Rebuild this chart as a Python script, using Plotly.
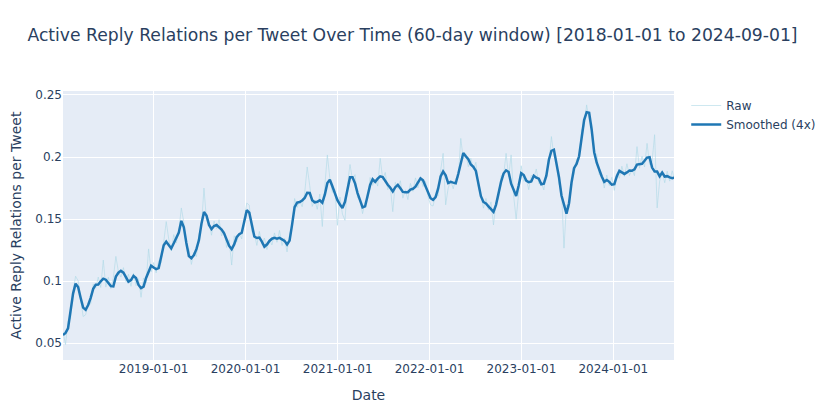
import pandas as pd
import plotly.graph_objects as go

# Sampling dates of the 60-day window series (every 10 days)
start_date = "2018-01-06"
n_points = 244

smoothed_values = [
    0.0566, 0.0583, 0.0620, 0.0747, 0.0900, 0.0980, 0.0953, 0.0867, 0.0787, 0.0770,
    0.0808, 0.0866, 0.0938, 0.0972, 0.0973, 0.0999, 0.1020, 0.1012, 0.0982, 0.0960,
    0.0958, 0.1037, 0.1068, 0.1083, 0.1069, 0.1027, 0.0996, 0.1008, 0.1043, 0.1025,
    0.0970, 0.0944, 0.0956, 0.1026, 0.1080, 0.1125, 0.1110, 0.1097, 0.1105, 0.1195,
    0.1289, 0.1318, 0.1289, 0.1264, 0.1305, 0.1347, 0.1392, 0.1486, 0.1433, 0.1307,
    0.1203, 0.1185, 0.1210, 0.1258, 0.1331, 0.1463, 0.1557, 0.1529, 0.1453, 0.1420,
    0.1444, 0.1452, 0.1436, 0.1415, 0.1385, 0.1331, 0.1284, 0.1258, 0.1296, 0.1355,
    0.1378, 0.1390, 0.1470, 0.1572, 0.1552, 0.1445, 0.1360, 0.1348, 0.1351, 0.1318,
    0.1277, 0.1295, 0.1324, 0.1342, 0.1349, 0.1343, 0.1349, 0.1337, 0.1325, 0.1296,
    0.1327, 0.1456, 0.1596, 0.1633, 0.1637, 0.1650, 0.1670, 0.1712, 0.1710, 0.1652,
    0.1635, 0.1639, 0.1652, 0.1632, 0.1697, 0.1790, 0.1817, 0.1765, 0.1703, 0.1653,
    0.1618, 0.1590, 0.1639, 0.1743, 0.1837, 0.1837, 0.1788, 0.1710, 0.1642, 0.1594,
    0.1602, 0.1690, 0.1775, 0.1821, 0.1800, 0.1826, 0.1845, 0.1839, 0.1806, 0.1777,
    0.1752, 0.1723, 0.1757, 0.1776, 0.1749, 0.1719, 0.1716, 0.1717, 0.1738, 0.1744,
    0.1762, 0.1792, 0.1828, 0.1812, 0.1765, 0.1711, 0.1668, 0.1655, 0.1678, 0.1745,
    0.1843, 0.1883, 0.1853, 0.1790, 0.1800, 0.1794, 0.1789, 0.1863, 0.1950, 0.2033,
    0.2007, 0.1982, 0.1940, 0.1921, 0.1888, 0.1790, 0.1685, 0.1638, 0.1626, 0.1603,
    0.1579, 0.1558, 0.1615, 0.1720, 0.1800, 0.1867, 0.1893, 0.1880, 0.1785, 0.1737,
    0.1686, 0.1770, 0.1870, 0.1855, 0.1810, 0.1797, 0.1803, 0.1850, 0.1834, 0.1826,
    0.1781, 0.1785, 0.1850, 0.1978, 0.2050, 0.2059, 0.1951, 0.1840, 0.1690, 0.1608,
    0.1544, 0.1628, 0.1795, 0.1910, 0.1944, 0.2006, 0.2162, 0.2298, 0.2361, 0.2357,
    0.2220, 0.2039, 0.1954, 0.1896, 0.1843, 0.1800, 0.1815, 0.1800, 0.1777, 0.1781,
    0.1846, 0.1889, 0.1876, 0.1864, 0.1876, 0.1891, 0.1889, 0.1900, 0.1939, 0.1940,
    0.1946, 0.1970, 0.1996, 0.1999, 0.1915, 0.1884, 0.1883, 0.1845, 0.1875, 0.1843,
    0.1846, 0.1836, 0.1829, 0.1835,
]

raw_values = [
    0.0590, 0.0490, 0.0680, 0.0697, 0.0920, 0.1040, 0.1003, 0.0847, 0.0715, 0.0730,
    0.0818, 0.0816, 0.0978, 0.0942, 0.1033, 0.0949, 0.1170, 0.0952, 0.1032, 0.0940,
    0.1028, 0.1200, 0.1078, 0.1033, 0.1109, 0.0997, 0.1056, 0.0958, 0.1063, 0.0965,
    0.1020, 0.0870, 0.1026, 0.0986, 0.1260, 0.1075, 0.1150, 0.1067, 0.1165, 0.1145,
    0.1309, 0.1480, 0.1339, 0.1244, 0.1375, 0.1307, 0.1402, 0.1590, 0.1473, 0.1277,
    0.1263, 0.1135, 0.1230, 0.1198, 0.1381, 0.1443, 0.1750, 0.1489, 0.1463, 0.1370,
    0.1484, 0.1422, 0.1496, 0.1365, 0.1405, 0.1271, 0.1334, 0.1130, 0.1366, 0.1315,
    0.1388, 0.1340, 0.1510, 0.1630, 0.1612, 0.1395, 0.1380, 0.1288, 0.1401, 0.1298,
    0.1347, 0.1255, 0.1334, 0.1292, 0.1389, 0.1313, 0.1409, 0.1287, 0.1345, 0.1236,
    0.1377, 0.1436, 0.1666, 0.1593, 0.1647, 0.1600, 0.1710, 0.1920, 0.1770, 0.1602,
    0.1655, 0.1579, 0.1702, 0.1440, 0.1767, 0.2017, 0.1827, 0.1715, 0.1743, 0.1450,
    0.1678, 0.1540, 0.1490, 0.1780, 0.1940, 0.1817, 0.1858, 0.1670, 0.1652, 0.1544,
    0.1642, 0.1660, 0.1835, 0.1771, 0.1820, 0.1766, 0.1990, 0.1819, 0.1876, 0.1737,
    0.1762, 0.1560, 0.1797, 0.1746, 0.1809, 0.1669, 0.1736, 0.1657, 0.1788, 0.1724,
    0.1832, 0.1752, 0.1838, 0.1762, 0.1805, 0.1681, 0.1615, 0.1605, 0.1698, 0.1685,
    0.1893, 0.2030, 0.1615, 0.1750, 0.1810, 0.1744, 0.1829, 0.1833, 0.2150, 0.1983,
    0.2027, 0.1922, 0.1990, 0.1901, 0.1958, 0.1750, 0.1695, 0.1588, 0.1666, 0.1573,
    0.1639, 0.1453, 0.1635, 0.1660, 0.1850, 0.1847, 0.2030, 0.1840, 0.2017, 0.1687,
    0.1500, 0.1740, 0.1930, 0.1805, 0.1830, 0.1737, 0.1853, 0.1830, 0.1904, 0.1786,
    0.1791, 0.1735, 0.1890, 0.1948, 0.2165, 0.2009, 0.1971, 0.1780, 0.1740, 0.1266,
    0.1614, 0.1588, 0.1805, 0.1860, 0.1984, 0.1976, 0.2222, 0.2248, 0.2420, 0.2297,
    0.2270, 0.2019, 0.2024, 0.1856, 0.1853, 0.1750, 0.1855, 0.1770, 0.1837, 0.1731,
    0.1866, 0.1829, 0.1926, 0.1844, 0.1946, 0.1851, 0.1899, 0.1850, 0.2084, 0.1910,
    0.2006, 0.1920, 0.2110, 0.1939, 0.1965, 0.2180, 0.1590, 0.1805, 0.1885, 0.1793,
    0.1886, 0.1806, 0.1889, 0.1810,
]

dates = pd.date_range(start_date, periods=n_points, freq="10D")

fig = go.Figure()
fig.add_trace(go.Scatter(
    x=dates, y=raw_values, mode="lines", name="Raw",
    line=dict(color="rgba(173,216,230,0.6)", width=1),
))
fig.add_trace(go.Scatter(
    x=dates, y=smoothed_values, mode="lines", name="Smoothed (4x)",
    line=dict(color="#1f77b4", width=2.5),
))

fig.update_layout(
    width=809, height=401,
    template="plotly",
    font=dict(family="DejaVu Sans"),
    margin=dict(l=55, r=143, t=83, b=49, autoexpand=False),
    title=dict(
        text="Active Reply Relations per Tweet Over Time (60-day window) [2018-01-01 to 2024-09-01]",
        x=0.5, xanchor="center", y=1 - 27 / 401, yanchor="middle",
        font=dict(size=17.2),
    ),
    xaxis=dict(
        title=dict(text="Date"),
        range=["2018-01-06", "2024-08-29"],
        tickformat="%Y-%m-%d", dtick="M12", tick0="2019-01-01",
        automargin=False,
    ),
    yaxis=dict(
        title=dict(text="Active Reply Relations per Tweet", standoff=14),
        range=[0.0365, 0.2532],
        automargin=False,
    ),
    legend=dict(x=1.02, y=1),
    showlegend=True,
)

fig.write_html("out.html")
